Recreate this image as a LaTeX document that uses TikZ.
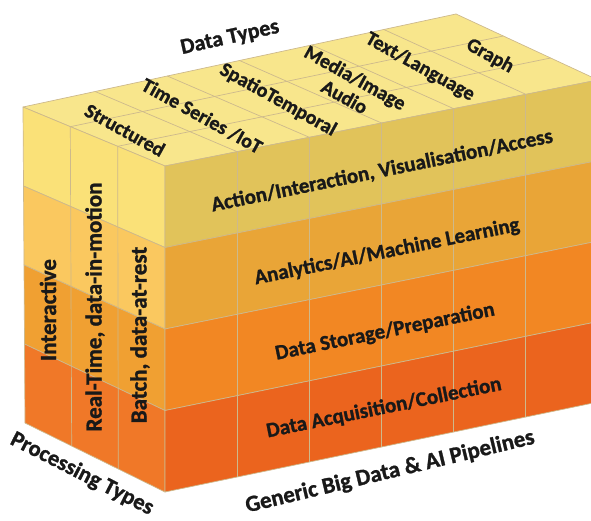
\documentclass[tikz,border=0pt]{standalone}
\usepackage{fontspec}
\setmainfont{Carlito}[BoldFeatures={FakeBold=1.2}]
\definecolor{topface}{HTML}{F8E68C}
\definecolor{leftA}{HTML}{FAE178}
\definecolor{leftB}{HTML}{FAC85F}
\definecolor{leftC}{HTML}{F0A032}
\definecolor{leftD}{HTML}{F07828}
\definecolor{frontA}{HTML}{E1C35A}
\definecolor{frontB}{HTML}{E9A537}
\definecolor{frontC}{HTML}{F28723}
\definecolor{frontD}{HTML}{EB641E}
\definecolor{gridline}{RGB}{205,185,140}
\begin{document}
\begin{tikzpicture}[x=1pt,y=-1pt]
\tikzset{grid/.style={draw=gridline,line width=0.7pt,line join=round},
  lab/.style={font=\fontsize{20}{22}\selectfont\bfseries,text=black!90,inner sep=1pt},
  layerlab/.style={lab,font=\fontsize{21}{23}\selectfont\bfseries,rotate=11.5},
  proclab/.style={lab,font=\fontsize{23}{25}\selectfont\bfseries,rotate=90},
  typelab/.style={lab,rotate=-29}}
\useasboundingbox (0,0) rectangle (591,521);
\path[grid,fill=topface] (23,107) -- (165,166) -- (598,80) -- (456,14) -- cycle;
\path[grid,fill=leftA] (23,107) -- (165,166) -- (165,247.5) -- (23.5,186) -- cycle;
\path[grid,fill=leftB] (23.5,186) -- (165,247.5) -- (165,329) -- (24,265) -- cycle;
\path[grid,fill=leftC] (24,265) -- (165,329) -- (165,410.5) -- (24.5,344) -- cycle;
\path[grid,fill=leftD] (24.5,344) -- (165,410.5) -- (165,492) -- (25,423) -- cycle;
\path[grid,fill=frontA] (165,166) -- (598,80) -- (598,160.5) -- (165,247.5) -- cycle;
\path[grid,fill=frontB] (165,247.5) -- (598,160.5) -- (598,241) -- (165,329) -- cycle;
\path[grid,fill=frontC] (165,329) -- (598,241) -- (598,321.5) -- (165,410.5) -- cycle;
\path[grid,fill=frontD] (165,410.5) -- (598,321.5) -- (598,402) -- (165,492) -- cycle;
\path[grid] (237.2,151.7) -- (237.2,477);
\path[grid] (309.3,137.3) -- (309.3,462);
\path[grid] (381.5,123) -- (381.5,447);
\path[grid] (453.7,108.7) -- (453.7,432);
\path[grid] (525.8,94.3) -- (525.8,417);
\path[grid] (70.3,126.7) -- (71.7,446);
\path[grid] (117.7,146.3) -- (118.3,469);
\path[grid] (95.2,91.5) -- (237.2,151.7);
\path[grid] (167.3,76) -- (309.3,137.3);
\path[grid] (239.5,60.5) -- (381.5,123);
\path[grid] (311.7,45) -- (453.7,108.7);
\path[grid] (383.8,29.5) -- (525.8,94.3);
\path[grid] (117.7,146.3) -- (550.7,58);
\path[grid] (70.3,126.7) -- (503.3,36);
\node[lab,font=\fontsize{22}{24}\selectfont\bfseries,rotate=12.5] (types) at (230,38) {Data Types};
\node[typelab] (d1) at (125,130) {Structured};
\node[typelab] (d2) at (202,116) {Time Series /IoT};
\node[typelab] (d3) at (278,100) {SpatioTemporal};
\node[typelab,align=center] (d4) at (350,87) {Media/Image\\Audio};
\node[typelab] (d5) at (420,67) {Text/Language};
\node[typelab] (d6) at (490,56) {Graph};
\node[layerlab] (l1) at (382,171) {Action/Interaction, Visualisation/Access};
\node[layerlab] (l2) at (387,252) {Analytics/AI/Machine Learning};
\node[layerlab] (l3) at (385,332) {Data Storage/Preparation};
\node[layerlab] (l4) at (384,408) {Data Acquisition/Collection};
\node[proclab] (p1) at (48,310) {Interactive};
\node[proclab] (p2) at (95,307) {Real-Time, data-in-motion};
\node[proclab] (p3) at (140,335) {Batch, data-at-rest};
\node[lab,font=\fontsize{22.5}{24}\selectfont\bfseries,rotate=-27] (proc) at (82,474) {Processing Types};
\node[lab,font=\fontsize{23}{25}\selectfont\bfseries,rotate=13.5] (pipe) at (390,472) {Generic Big Data \& AI Pipelines};
\end{tikzpicture}
\end{document}
